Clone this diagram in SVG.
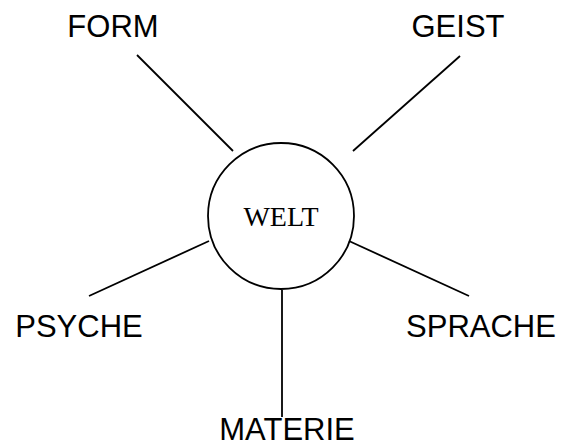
<svg xmlns="http://www.w3.org/2000/svg" width="571" height="448" viewBox="0 0 571 448">
<style>
.lbl{font-family:"Liberation Sans",Arial,sans-serif;font-size:31px;fill:#000}
.ctr{font-family:"Liberation Serif","Times New Roman",serif;font-size:28px;fill:#000}
.ln{stroke:#000;stroke-width:1.8;fill:none}
</style>
<rect width="571" height="448" fill="#fff"/>
<g id="connectors">
<line class="ln" x1="137" y1="55" x2="233" y2="151"/>
<line class="ln" x1="460" y1="56" x2="353" y2="151"/>
<line class="ln" x1="89" y1="296" x2="209" y2="241"/>
<line class="ln" x1="469" y1="296" x2="349" y2="241"/>
<line class="ln" x1="282" y1="290" x2="282" y2="417"/>
</g>
<g id="welt">
<circle class="ln" cx="281" cy="216" r="73"/>
<text class="ctr" x="281" y="226" text-anchor="middle">WELT</text>
</g>
<g id="form"><text class="lbl" x="113" y="37" text-anchor="middle">FORM</text></g>
<g id="geist"><text class="lbl" x="458" y="37" text-anchor="middle">GEIST</text></g>
<g id="psyche"><text class="lbl" x="79" y="337" text-anchor="middle">PSYCHE</text></g>
<g id="sprache"><text class="lbl" x="481" y="337" text-anchor="middle">SPRACHE</text></g>
<g id="materie"><text class="lbl" x="287" y="440" text-anchor="middle">MATERIE</text></g>
</svg>
